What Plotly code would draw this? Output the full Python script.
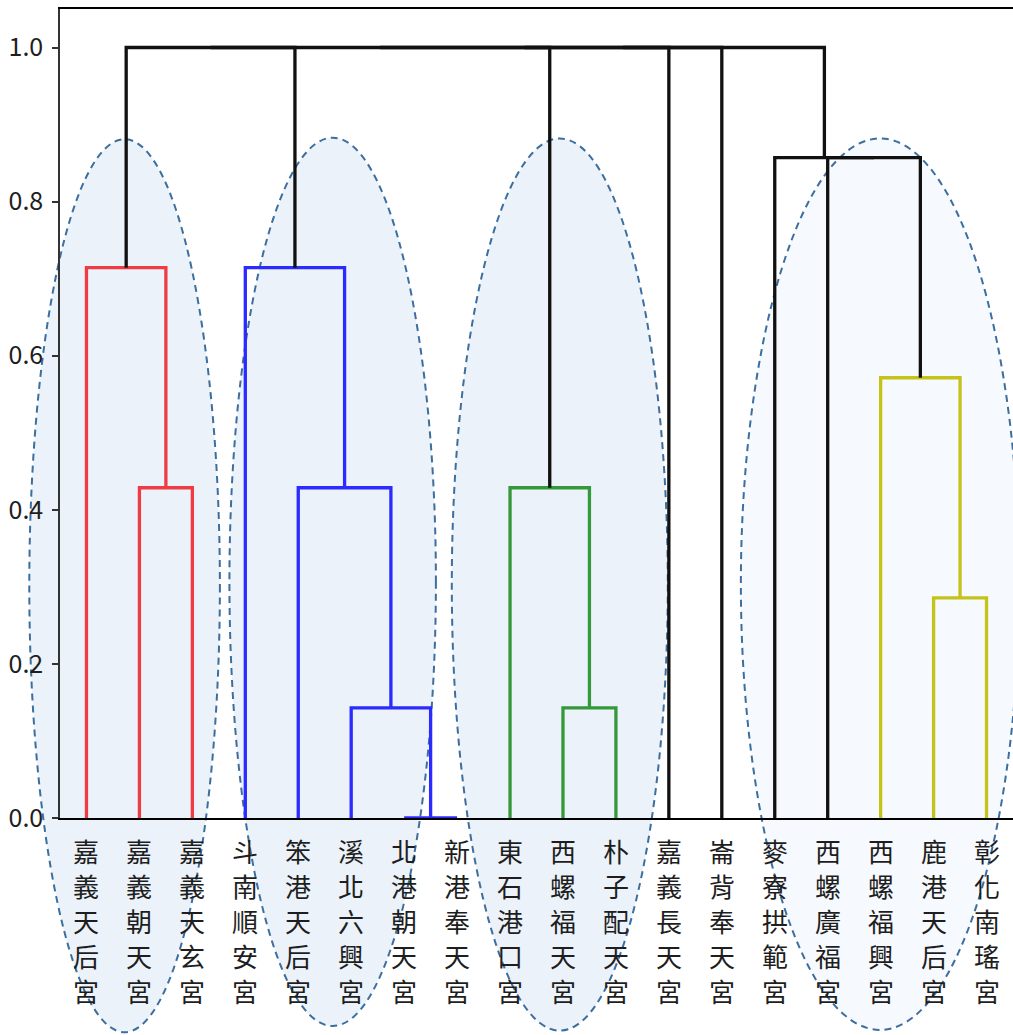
import plotly.graph_objects as go

# ---------------- data ----------------
labels = ["嘉義天后宮", "嘉義朝天宮", "嘉義天玄宮", "斗南順安宮", "笨港天后宮",
          "溪北六興宮", "北港朝天宮", "新港奉天宮", "東石港口宮", "西螺福天宮",
          "朴子配天宮", "嘉義長天宮", "崙背奉天宮", "麥寮拱範宮", "西螺廣福宮",
          "西螺福興宮", "鹿港天后宮", "彰化南瑤宮"]

# merges: new cluster id = 18 + row index
merge_left = [1, 0, 6, 5, 4, 3, 9, 8, 16, 15, 14, 13, 19, 30, 31, 32, 33]
merge_right = [2, 18, 7, 20, 21, 22, 10, 24, 17, 26, 27, 28, 23, 25, 11, 12, 29]
merge_height = [0.4286, 0.7143, 0.0, 0.1429, 0.4286, 0.7143, 0.1429, 0.4286,
                0.2857, 0.5714, 0.8571, 0.8571, 1.0, 1.0, 1.0, 1.0, 1.0]
merge_color = ["red", "red", "blue", "blue", "blue", "blue", "green", "green",
               "yellow", "yellow", "black", "black", "black", "black", "black",
               "black", "black"]

y_ticks = [0.0, 0.2, 0.4, 0.6, 0.8, 1.0]

# highlight ellipses (data units)
ell_cx = [12.2, 51.5, 94.4, 154.9]
ell_rx = [18.0, 19.5, 20.4, 26.3]
ell_ytop = [0.881, 0.883, 0.882, 0.882]
ell_ybot = [-0.278, -0.270, -0.276, -0.275]
ell_fill = ["rgba(222,234,246,0.62)", "rgba(222,234,246,0.62)",
            "rgba(222,234,246,0.62)", "rgba(232,240,250,0.40)"]

# ---------------- styles ----------------
palette = {"red": "#ef3b43", "blue": "#2b2bff", "green": "#35983a",
           "yellow": "#c3c31a", "black": "#111111"}
FONT = "Noto Sans CJK TC"
XMIN, XMAX = 0, 10 * len(labels)
YMIN, YMAX = 0, 1.05
LABEL_SIZE = 26
LABEL_STEP = 35.2  # px between stacked characters

# ---------------- dendrogram layout ----------------
n = len(labels)
leaf_x = [5 + 10 * i for i in range(n)]
pos = {i: leaf_x[i] for i in range(n)}
hgt = {i: 0.0 for i in range(n)}

fig = go.Figure()
seg = {c: ([], []) for c in palette}
for k, (a, b, h, c) in enumerate(zip(merge_left, merge_right, merge_height, merge_color)):
    xs, ys = seg[c]
    xs += [pos[a], pos[a], pos[b], pos[b], None]
    ys += [hgt[a], h, h, hgt[b], None]
    pos[n + k] = (pos[a] + pos[b]) / 2
    hgt[n + k] = h

for c, (xs, ys) in seg.items():
    fig.add_trace(go.Scatter(x=xs, y=ys, mode="lines",
                             line=dict(color=palette[c], width=3.3),
                             hoverinfo="skip", showlegend=False))

# vertical (stacked) leaf labels
for xv, lab in zip(leaf_x, labels):
    for j, ch in enumerate(lab):
        fig.add_annotation(x=xv, xref="x", y=0, yref="paper",
                           text=ch, showarrow=False,
                           xanchor="center", yanchor="middle",
                           yshift=-32 - LABEL_STEP * j,
                           font=dict(size=LABEL_SIZE, family=FONT, color="#1e1e1e"))

# ellipses in paper coordinates derived from data units
def px(v):
    return (v - XMIN) / (XMAX - XMIN)

def py(v):
    return (v - YMIN) / (YMAX - YMIN)

for cx, rx, yt, yb, fc in zip(ell_cx, ell_rx, ell_ytop, ell_ybot, ell_fill):
    fig.add_shape(type="circle", xref="paper", yref="paper",
                  x0=px(cx - rx), x1=px(cx + rx), y0=py(yb), y1=py(yt),
                  line=dict(color="#3c6e9e", width=2, dash="7px,5px"),
                  fillcolor=fc, layer="below")

fig.update_layout(
    width=1013, height=1035,
    margin=dict(l=60, r=0, t=9, b=217, autoexpand=False),
    paper_bgcolor="white", plot_bgcolor="rgba(0,0,0,0)",
    font=dict(family=FONT, color="#1e1e1e"),
    showlegend=False,
)
fig.update_xaxes(range=[XMIN, XMAX], automargin=False,
                 showticklabels=False, ticks="",
                 showgrid=False, zeroline=False,
                 showline=True, linecolor="black", linewidth=1.5, mirror=True)
fig.update_yaxes(range=[YMIN, YMAX], tickmode="array", tickvals=y_ticks,
                 automargin=False,
                 ticktext=[f"{v:.1f}" for v in y_ticks],
                 tickfont=dict(size=25, family=FONT, color="#1e1e1e"),
                 ticks="outside", ticklen=6, tickwidth=1.5, tickcolor="#333333",
                 ticklabelstandoff=4,
                 showgrid=False, zeroline=False,
                 showline=True, linecolor="#333333", linewidth=1.5, mirror=False)

fig.write_html("out.html", config={"displayModeBar": False},
               post_script="document.body.style.margin='0';document.body.style.overflow='hidden';")
